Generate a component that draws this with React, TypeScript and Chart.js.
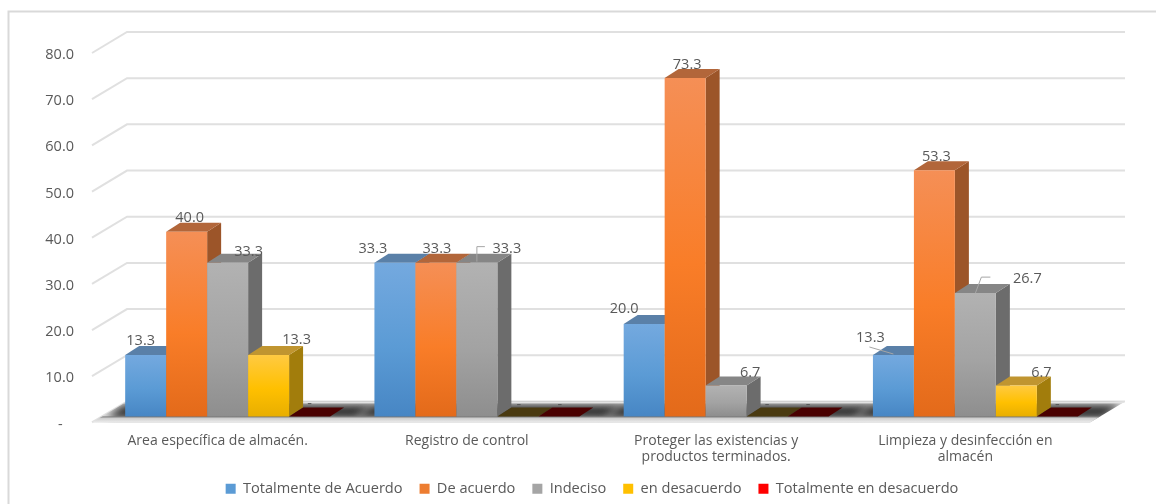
import React, { useEffect, useRef } from "react";
import { Chart, registerables } from "chart.js";

Chart.register(...registerables);

const categories = [
  "Area específica de almacén.",
  "Registro de control",
  ["Proteger las existencias y", "productos terminados."],
  ["Limpieza y desinfección en", "almacén"],
];
const seriesNames = [
  "Totalmente de Acuerdo",
  "De acuerdo",
  "Indeciso",
  "en desacuerdo",
  "Totalmente en desacuerdo",
];
const totalmenteDeAcuerdo = [13.3, 33.3, 20.0, 13.3];
const deAcuerdo = [40.0, 33.3, 73.3, 53.3];
const indeciso = [33.3, 33.3, 6.7, 26.7];
const enDesacuerdo = [13.3, 0, 0, 6.7];
const totalmenteEnDesacuerdo = [0, 0, 0, 0];
const seriesValues = [totalmenteDeAcuerdo, deAcuerdo, indeciso, enDesacuerdo, totalmenteEnDesacuerdo];

// Face shading for each series of the extruded columns.
const faceStops = [
  ["#74a9df", "#5b9bd5", "#4786c4"],
  ["#f58f56", "#f97d28", "#e36a1a"],
  ["#b2b2b2", "#a3a3a3", "#8e8e8e"],
  ["#ffca42", "#ffc000", "#e8ae00"],
  ["#ff3030", "#ff0000", "#d90000"],
];
const sideColors = ["#3d6c98", "#9c5529", "#6c6c6c", "#a27d0c", "#8a0000"];
const topColors = ["#5a80a8", "#b2663a", "#868686", "#c09530", "#a00000"];
const flatTopColors = ["#223a55", "#5a3015", "#3c3c3c", "#4a3a10", "#4a0000"];
const legendColors = ["#5b9bd5", "#ed7d31", "#a5a5a5", "#ffc000", "#ff0000"];

const TEXT = "#595959";
const GRID = "#e0e0e0";
const DEPTH_X = 14;
const DEPTH_Y = 9;
const FONT = "'Open Sans', sans-serif";

// Where each value label sits relative to the top-centre of its column.
const labelShift = [
  [[-5, -14], [-22, -14], [-20, -15], [-23, -17]],
  [[3, -14], [1, -14], [2, -13], [2, -13]],
  [[21, -11], [30, -14], [24, -13], [52, -14]],
  [[28, -15], [1, -12], [0, -12], [25, -13]],
  [[0, -13], [1, -12], [0, -12], [0, -12]],
];
// Leader lines tying a displaced label to its column: [series, category, path].
const leaders: [number, number, number[][]][] = [
  [2, 1, [[0, -1], [0, -16], [8, -16]]],
  [2, 3, [[0, 0], [6, -16], [15, -16]]],
  [0, 3, [[-24, -8], [0, -1]]],
];

function poly(ctx: CanvasRenderingContext2D, pts: number[][], fill: string | CanvasGradient) {
  ctx.beginPath();
  pts.forEach(([x, y], i) => (i ? ctx.lineTo(x, y) : ctx.moveTo(x, y)));
  ctx.closePath();
  ctx.fillStyle = fill;
  ctx.fill();
}

function drawSolidFaces(chart: any, s: number) {
  const { ctx } = chart;
  chart.getDatasetMeta(s).data.forEach((el: any, i: number) => {
    const l = el.x - el.width / 2;
    const r = el.x + el.width / 2;
    const flat = seriesValues[s][i] === 0;
    if (!flat) {
      poly(ctx, [
        [r, el.y],
        [r + DEPTH_X, el.y - DEPTH_Y],
        [r + DEPTH_X, el.base - DEPTH_Y],
        [r, el.base],
      ], sideColors[s]);
    }
    poly(ctx, [
      [l, el.y],
      [l + DEPTH_X, el.y - DEPTH_Y],
      [r + DEPTH_X, el.y - DEPTH_Y],
      [r, el.y],
    ], flat ? flatTopColors[s] : topColors[s]);
  });
}

const frame3d = {
  id: "frame3d",
  beforeDraw(chart: any) {
    const { ctx, chartArea: a, scales } = chart;
    ctx.save();
    ctx.fillStyle = "#ffffff";
    ctx.fillRect(0, 0, chart.width, chart.height);

    // Outer frame: only the top and left edges fall inside the canvas.
    ctx.strokeStyle = "#d9d9d9";
    ctx.lineWidth = 2;
    ctx.beginPath();
    ctx.moveTo(8.5, 504);
    ctx.lineTo(8.5, 11.5);
    ctx.lineTo(1156, 11.5);
    ctx.stroke();

    // Side wall and back wall gridlines.
    ctx.strokeStyle = GRID;
    ctx.lineWidth = 2;
    scales.y.ticks.forEach((t: any) => {
      const y = scales.y.getPixelForValue(t.value);
      ctx.beginPath();
      ctx.moveTo(a.left - 11, y + 6);
      ctx.lineTo(a.left + 24, y - 15);
      ctx.lineTo(a.right + 25, y - 15);
      ctx.stroke();
    });

    // Floor: a light slab with soft dark shadows under the column groups.
    const b = a.bottom;
    const floor = [
      [a.left - 11, b + 6],
      [a.left + 24, b - 15],
      [a.right + 25, b - 15],
      [a.right - 10, b + 6],
    ];
    ctx.save();
    ctx.beginPath();
    floor.forEach(([x, y], i) => (i ? ctx.lineTo(x, y) : ctx.moveTo(x, y)));
    ctx.closePath();
    ctx.clip();
    ctx.fillStyle = "#e4e4e4";
    ctx.fillRect(a.left - 20, b - 16, a.width + 60, 24);
    ctx.filter = "blur(4px)";
    const step = a.width / categories.length;
    categories.forEach((_, i) => {
      const cx = scales.x.getPixelForValue(i);
      const half = step * 0.49;
      poly(ctx, [
        [cx - half, b + 2],
        [cx - half + 18, b - 12],
        [cx + half + 24, b - 12],
        [cx + half + 6, b + 2],
      ], "#2e2e2e");
    });
    ctx.filter = "none";
    // Lit rims along the front and back edges of the slab.
    const rim = ctx.createLinearGradient(0, b, 0, b + 6);
    rim.addColorStop(0, "#7a7a7a");
    rim.addColorStop(0.35, "#d0d0d0");
    rim.addColorStop(1, "#ececec");
    ctx.fillStyle = rim;
    ctx.fillRect(a.left - 20, b, a.width + 60, 7);
    ctx.fillStyle = "#e2e2e2";
    ctx.fillRect(a.left - 20, b - 15, a.width + 60, 2);
    ctx.restore();
    ctx.restore();
  },
  // Columns paint left to right, each over the side face of the one before it.
  beforeDatasetsDraw(chart: any) {
    seriesValues.forEach((_, s) => {
      drawSolidFaces(chart, s);
      chart.getDatasetMeta(s).controller.draw();
    });
    return false;
  },
  afterDraw(chart: any) {
    const { ctx } = chart;
    ctx.save();
    ctx.font = `14.5px ${FONT}`;
    ctx.fillStyle = TEXT;
    ctx.textAlign = "center";
    ctx.textBaseline = "middle";
    seriesValues.forEach((vals, s) => {
      const meta = chart.getDatasetMeta(s);
      vals.forEach((v, i) => {
        const el = meta.data[i];
        const [dx, dy] = labelShift[s][i];
        ctx.fillText(v === 0 ? "-" : v.toFixed(1), el.x + dx, el.y + dy);
      });
    });
    ctx.strokeStyle = "#a6a6a6";
    ctx.lineWidth = 1;
    leaders.forEach(([s, i, path]) => {
      const el = chart.getDatasetMeta(s).data[i];
      ctx.beginPath();
      path.forEach(([dx, dy], k) =>
        k ? ctx.lineTo(el.x + dx, el.y + dy) : ctx.moveTo(el.x + dx, el.y + dy)
      );
      ctx.stroke();
    });
    ctx.restore();
  },
};

function faceGradient(s: number) {
  return (c: any) => {
    const { chart, dataIndex } = c;
    const area = chart.chartArea;
    if (!area || dataIndex === undefined) return faceStops[s][1];
    const top = chart.scales.y.getPixelForValue(seriesValues[s][dataIndex]);
    if (area.bottom - top < 1) return faceStops[s][1];
    const g = chart.ctx.createLinearGradient(0, top, 0, area.bottom);
    g.addColorStop(0, faceStops[s][0]);
    g.addColorStop(0.55, faceStops[s][1]);
    g.addColorStop(1, faceStops[s][2]);
    return g;
  };
}

export default function App() {
  const ref = useRef<HTMLCanvasElement>(null);
  useEffect(() => {
    const chart = new Chart(ref.current!, {
      type: "bar",
      data: {
        labels: categories as any,
        datasets: seriesNames.map((name, s) => ({
          label: name,
          data: seriesValues[s],
          backgroundColor: faceGradient(s),
          borderWidth: 0,
          categoryPercentage: 0.822,
          barPercentage: 1,
        })),
      },
      options: {
        responsive: false,
        animation: false,
        layout: { padding: { top: 47, left: 28, right: 0, bottom: -2 } },
        plugins: {
          tooltip: { enabled: false },
          legend: {
            position: "bottom",
            labels: {
              color: TEXT,
              font: { family: FONT, size: 14.6 },
              boxWidth: 10,
              boxHeight: 10,
              padding: 17,
              generateLabels: () =>
                seriesNames.map((text, i) => ({
                  text,
                  fillStyle: legendColors[i],
                  strokeStyle: legendColors[i],
                  lineWidth: 0,
                  fontColor: TEXT,
                  datasetIndex: i,
                })),
            },
          },
        },
        scales: {
          x: {
            grid: { display: false },
            border: { display: false },
            ticks: {
              color: TEXT,
              font: { family: FONT, size: 14, lineHeight: 1.12 },
              padding: 9,
              labelOffset: -10,
              maxRotation: 0,
              autoSkip: false,
            },
            afterFit: (s: any) => { s.height = 48; },
          },
          y: {
            min: 0,
            max: 80,
            grid: { display: false },
            border: { display: false },
            ticks: {
              stepSize: 10,
              color: TEXT,
              font: { family: FONT, size: 14.5 },
              padding: 21,
              labelOffset: 8,
              callback: (v: any) => (v === 0 ? "-   " : Number(v).toFixed(1)),
            },
            afterFit: (s: any) => { s.width = 75; },
          },
          // Empty right-hand gutter; keeps the plot clear of the back wall overhang.
          gutter: {
            position: "right",
            display: true,
            grid: { display: false },
            border: { display: false },
            ticks: { display: false },
            afterFit: (s: any) => { s.width = 56; },
          },
        },
      },
      plugins: [frame3d],
    } as any);
    return () => chart.destroy();
  }, []);
  return (
    <div style={{ position: "absolute", left: 0, top: 0, width: 1156, height: 504 }}>
      <canvas ref={ref} width={1156} height={504} style={{ display: "block" }} />
    </div>
  );
}
